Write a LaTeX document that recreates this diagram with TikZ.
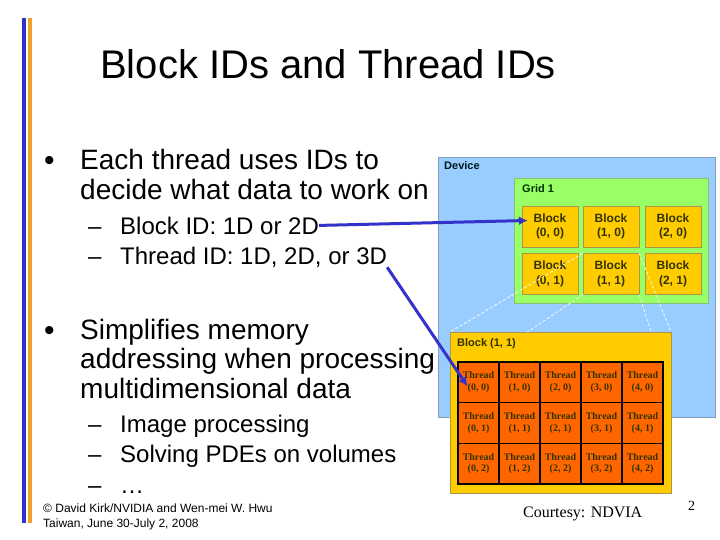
\documentclass[tikz,border=0pt]{standalone}
\usepackage{fontspec}
\setmainfont{Liberation Sans}
\newfontfamily\serifface{Liberation Serif}
\usepackage{xcolor}
\usetikzlibrary{positioning,arrows.meta,calc}
\definecolor{barblue}{RGB}{51,51,204}
\definecolor{barorange}{RGB}{240,160,40}
\definecolor{devicebg}{RGB}{153,204,255}
\definecolor{deviceedge}{RGB}{128,160,190}
\definecolor{gridbg}{RGB}{153,255,102}
\definecolor{gridedge}{RGB}{140,190,120}
\definecolor{blockbg}{RGB}{255,204,0}
\definecolor{blockedge}{RGB}{170,150,70}
\definecolor{threadbg}{RGB}{255,102,0}
\definecolor{labeldark}{RGB}{51,51,0}
\definecolor{idarrow}{RGB}{51,51,204}

\tikzset{
  titleline/.style={anchor=base west, inner sep=0pt, font=\fontsize{40}{48}\selectfont},
  mainline/.style={anchor=base west, inner sep=0pt, font=\fontsize{28}{30}\selectfont},
  subline/.style={anchor=base west, inner sep=0pt, font=\fontsize{24}{28}\selectfont},
  bulletmark/.style={anchor=base west, inner sep=0pt, font=\fontsize{30}{32}\selectfont},
  footline/.style={anchor=base west, inner sep=0pt, font=\fontsize{12}{14}\selectfont},
  boxlabel/.style={anchor=base west, inner sep=0pt, text=labeldark,
    font=\fontsize{11}{13}\selectfont\bfseries},
  blockcell/.style={draw=blockedge, fill=blockbg, minimum width=56pt, minimum height=41pt,
    inner sep=0pt, align=center, text=labeldark, font=\fontsize{12}{14.5}\selectfont\bfseries},
  threadcell/.style={draw=black, line width=1.6pt, fill=threadbg, minimum width=41pt,
    minimum height=40.67pt, inner sep=0pt, align=center, text=labeldark,
    font=\serifface\fontsize{10}{11.5}\selectfont\bfseries},
  zoomline/.style={white, dash pattern=on 3pt off 2pt, line width=0.7pt},
  idlink/.style={idarrow, line width=3pt, -{Latex[length=9pt,width=9pt]}},
}

\begin{document}
\begin{tikzpicture}[x=1pt, y=-1pt]
  \useasboundingbox (0,0) rectangle (720,540);
  \fill[white] (0,0) rectangle (720,540);

  % side bars
  \fill[barblue] (22,18) rectangle (26,523);
  \fill[barorange] (28,18) rectangle (32,523);

  % slide text
  \node[titleline] (title) at (100,79) {Block IDs and Thread IDs};

  \node[bulletmark] (dot1) at (44,171) {•};
  \node[mainline] (each) at (80,170) {Each thread uses IDs to};
  \node[mainline] (decide) at (80,200) {decide what data to work on};
  \node[subline] (dasha) at (88,234) {–};
  \node[subline] (blockid) at (120,234) {Block ID: 1D or 2D};
  \node[subline] (dashb) at (88,264) {–};
  \node[subline] (threadid) at (120,264) {Thread ID: 1D, 2D, or 3D};

  \node[bulletmark] (dot2) at (44,340) {•};
  \node[mainline] (simpl) at (80,339) {Simplifies memory};
  \node[mainline] (addr) at (80,368) {addressing when processing};
  \node[mainline] (multi) at (80,398) {multidimensional data};
  \node[subline] (dashc) at (88,432) {–};
  \node[subline] (image) at (120,432) {Image processing};
  \node[subline] (dashd) at (88,462) {–};
  \node[subline] (pdes) at (120,462) {Solving PDEs on volumes};
  \node[subline] (dashe) at (88,493) {–};
  \node[subline] (more) at (120,493) {…};

  \node[footline] (foota) at (43,512) {© David Kirk/NVIDIA and Wen-mei W. Hwu};
  \node[footline] (footb) at (43,527) {Taiwan, June 30-July 2, 2008};

  % device and grid
  \node[draw=deviceedge, fill=devicebg, minimum width=277pt, minimum height=260pt]
    (device) at (576.5,287) {};
  \node[boxlabel, text=black!80!teal] at (444,170) {Device};
  \node[draw=gridedge, fill=gridbg, minimum width=194pt, minimum height=125pt]
    (grid) at (611,240.5) {};
  \node[boxlabel, text=black!80!green] at (522,193) {Grid 1};

  \foreach \i/\bx in {0/550,1/611,2/673}
    \foreach \j/\by in {0/226.5,1/274}
      \node[blockcell] (b\i\j) at (\bx,\by) {Block\\(\i, \j)};

  % zoom of block (1, 1)
  \coordinate (pnw) at (450,332);
  \coordinate (pne) at (671,332);
  \draw[zoomline] (b11.north west) -- (pnw);
  \draw[zoomline] (b11.south west) -- ($(pnw)!0.35!(pne)$);
  \draw[zoomline] (b11.north east) -- (pne);
  \draw[zoomline] (b11.south east) -- ($(pnw)!0.91!(pne)$);

  \node[draw=blockedge, fill=blockbg, minimum width=221pt, minimum height=161pt,
        anchor=north west] (panel) at (pnw) {};
  \node[boxlabel] at (457,346) {Block (1, 1)};

  \foreach \i in {0,...,4}
    \foreach \j in {0,1,2}
      \node[threadcell] (t\i\j) at ({478.5+41*\i},{382.33+40.67*\j}) {Thread\\(\i, \j)};

  \node[anchor=base west, inner sep=0pt, font=\serifface\fontsize{16}{18}\selectfont]
    (courtesy) at (523,517) {Courtesy: NDVIA};
  \node[anchor=base west, inner sep=0pt, font=\serifface\fontsize{14}{16}\selectfont]
    (pagenum) at (688,510) {2};

  % id arrows
  \draw[idlink] (blockid.east) -- ($(b00.west)+(6,-6)$);
  \draw[idlink] (threadid.south east) -- ($(t00.center)+(-11,4)$);
\end{tikzpicture}
\end{document}
